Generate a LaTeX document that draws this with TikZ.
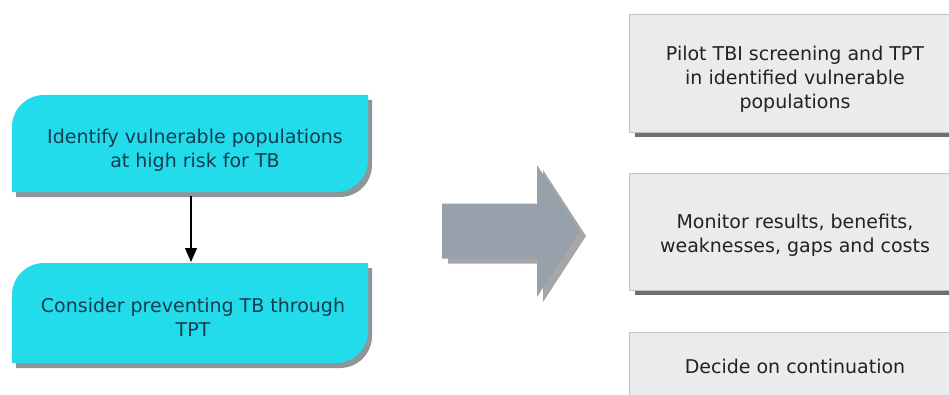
\documentclass[tikz,border=0pt]{standalone}
\usepackage{fontspec}
\setmainfont{DejaVu Sans}
\usetikzlibrary{arrows.meta}
\definecolor{cyanfill}{HTML}{22DCEB}
\definecolor{cyanshadow}{HTML}{8E9699}
\definecolor{cyantext}{HTML}{143C4E}
\definecolor{boxfill}{HTML}{EBEBEB}
\definecolor{boxline}{HTML}{C2C2C2}
\definecolor{boxshadow}{HTML}{6F6F6F}
\definecolor{boxtext}{HTML}{222222}
\definecolor{arrowfill}{HTML}{97A1AC}
\definecolor{arrowshadow}{HTML}{A6A6A6}
\tikzset{
  ghost/.style={inner sep=0pt, outer sep=0pt, minimum width=#1},
  lefttext/.style={font=\fontsize{19}{24}\selectfont, text=cyantext, align=center},
  righttext/.style={font=\fontsize{19}{24}\selectfont, text=boxtext, align=center},
  graybox/.style={fill=boxfill, draw=boxline, line width=0.8pt, minimum width=332pt, inner sep=0pt, outer sep=0pt},
  flowarrow/.style={line width=1.2pt, -{Triangle[length=14pt,width=12pt]}},
}
\newcommand\leafpath[4]{(#1,#2) -- (#1,#4-32) arc[start angle=180,end angle=90,radius=32pt] -- (#3,#4) -- (#3,#2+32) arc[start angle=0,end angle=-90,radius=32pt] -- cycle}
\begin{document}
\begin{tikzpicture}[x=1pt,y=1pt]
\useasboundingbox (0,0) rectangle (949,394);
\fill[white] (0,0) rectangle (949,394);
% left shapes
\node[ghost=356pt, minimum height=97pt] (idfbox) at (190,250.5) {};
\node[ghost=356pt, minimum height=100pt] (conbox) at (190,81) {};
\fill[cyanshadow] \leafpath{16}{197}{372}{294};
\fill[cyanfill] \leafpath{12}{202}{368}{299};
\fill[cyanshadow] \leafpath{16}{26}{372}{126};
\fill[cyanfill] \leafpath{12}{31}{368}{131};
\node[lefttext] (idf) at (195,243.5) {Identify vulnerable populations\\at high risk for TB};
\node[lefttext] (con) at (193,76.5) {Consider preventing TB through\\TPT};
\draw[flowarrow] ([xshift=1pt,yshift=-4pt]idfbox.south) -- ([xshift=1pt,yshift=1pt]conbox.north);
% big arrow
\fill[arrowshadow] (448,130.5) -- (448,185.5) -- (543,185.5) -- (543,224) -- (586,158) -- (543,92) -- (543,130.5) -- cycle;
\fill[arrowfill] (442,135.5) -- (442,190.5) -- (537,190.5) -- (537,229) -- (580,163) -- (537,97) -- (537,135.5) -- cycle;
% right boxes
\fill[boxshadow] (635,257) rectangle (967,375);
\node[graybox, minimum height=118pt] (pilot) at (795,321) {};
\fill[boxshadow] (635,99) rectangle (967,216);
\node[graybox, minimum height=117pt] (monitor) at (795,162.5) {};
\node[graybox, minimum height=118pt] (decide) at (795,3) {};
\node[righttext] (pilott) at (795,315) {Pilot TBI screening and TPT\\in identified vulnerable\\populations};
\node[righttext] (monitort) at (795,158.5) {Monitor results, benefits,\\weaknesses, gaps and costs};
\node[righttext] (decidet) at (795,28) {Decide on continuation};
\end{tikzpicture}
\end{document}
